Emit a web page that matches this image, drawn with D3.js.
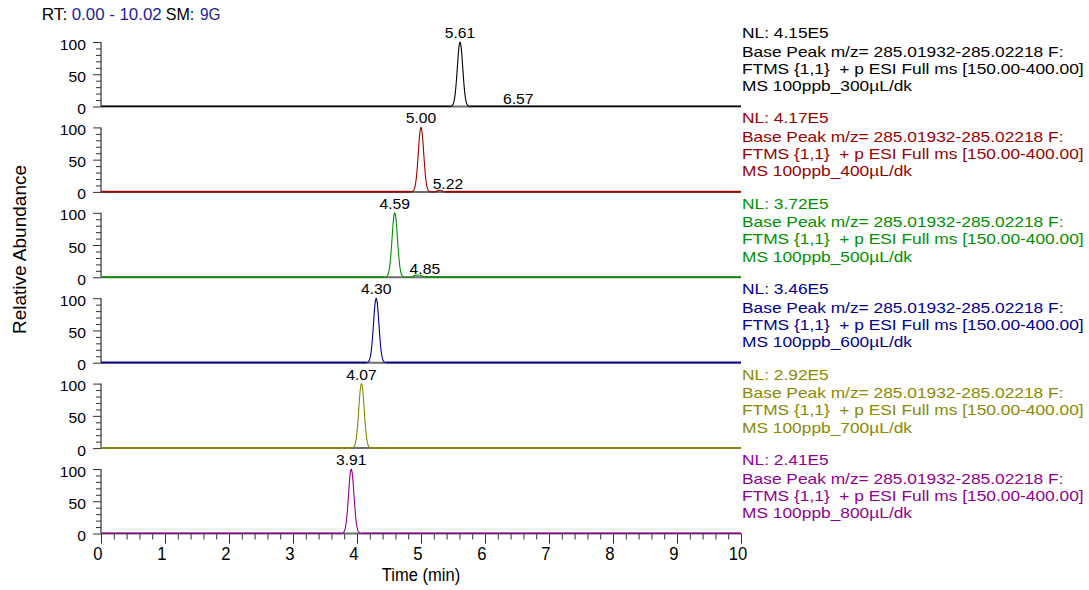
<!DOCTYPE html>
<html><head><meta charset="utf-8">
<script src="https://cdn.jsdelivr.net/npm/d3@7"></script>
<style>
html,body{margin:0;padding:0;background:#fff;}
svg{display:block;font-family:"Liberation Sans",Arial,sans-serif;}
text{white-space:pre;}
</style></head>
<body>
<svg id="chart" width="1089" height="590"></svg>
<script>
// ---------------- DATA ----------------
const sampleNames = ["MS 100ppb_300µL/dk","MS 100ppb_400µL/dk","MS 100ppb_500µL/dk","MS 100ppb_600µL/dk","MS 100ppb_700µL/dk","MS 100ppb_800µL/dk"];
const nlValues = ["4.15E5","4.17E5","3.72E5","3.46E5","2.92E5","2.41E5"];
const peakLabels = ["5.61","5.00","4.59","4.30","4.07","3.91"];
const peakTimes = [5.61, 5.00, 4.59, 4.30, 4.07, 3.91];
const minorLabels = ["6.57","5.22","4.85",null,null,null];
const minorTimes = [6.57, 5.22, 4.85, null, null, null];
const filterLine = "Base Peak m/z= 285.01932-285.02218 F:";
const scanLine = "FTMS {1,1}  + p ESI Full ms [150.00-400.00]";
const rtRange = "0.00 - 10.02";
const smoothing = "9G";
const xTicks = [0,1,2,3,4,5,6,7,8,9,10];
const yTicks = [0,50,100];

const t300 = [0,5.45,5.48,5.50,5.52,5.535,5.55,5.565,5.58,5.595,5.61,5.625,5.64,5.655,5.67,5.685,5.70,5.72,5.74,5.77,10];
const a300 = [0,0,1,3,10,20,36,56,78,94,100,94,78,56,36,20,10,3,1,0,0];
const t400 = [0,4.84,4.87,4.89,4.91,4.925,4.94,4.955,4.97,4.985,5.00,5.015,5.03,5.045,5.06,5.075,5.09,5.11,5.13,5.16,5.22,5.26,5.30,5.34,5.38,10];
const a400 = [0,0,1,3,10,20,36,56,78,94,100,94,78,56,36,20,10,3,1,0,0,2,2.5,1,0,0];
const t500 = [0,4.43,4.46,4.48,4.50,4.515,4.53,4.545,4.56,4.575,4.59,4.605,4.62,4.635,4.65,4.665,4.68,4.70,4.72,4.75,4.85,4.90,4.96,5.02,5.06,10];
const a500 = [0,0,1,3,10,20,36,56,78,94,100,94,78,56,36,20,10,3,1,0,0,3,3.5,2,0,0];
const t600 = [0,4.14,4.17,4.19,4.21,4.225,4.24,4.255,4.27,4.285,4.30,4.315,4.33,4.345,4.36,4.375,4.39,4.41,4.43,4.46,10];
const a600 = [0,0,1,3,10,20,36,56,78,94,100,94,78,56,36,20,10,3,1,0,0];
const t700 = [0,3.91,3.94,3.96,3.98,3.995,4.01,4.025,4.04,4.055,4.07,4.085,4.10,4.115,4.13,4.145,4.16,4.18,4.20,4.23,10];
const a700 = [0,0,1,3,10,20,36,56,78,94,100,94,78,56,36,20,10,3,1,0,0];
const t800 = [0,3.75,3.78,3.80,3.82,3.835,3.85,3.865,3.88,3.895,3.91,3.925,3.94,3.955,3.97,3.985,4.00,4.02,4.04,4.07,10];
const a800 = [0,0,1,3,10,20,36,56,78,94,100,94,78,56,36,20,10,3,1,0,0];

const seriesTimes = [t300,t400,t500,t600,t700,t800];
const seriesAbund = [a300,a400,a500,a600,a700,a800];

// ---------------- STYLE / LAYOUT ----------------
const colors = ["#000000","#990000","#009000","#000090","#8a8a00","#900090"];
const xLeft = 101, xRight = 741;
const base0 = 106.5, panelStep = 85.4, panelH = 64.5;
const minorLabelShift = [-0.05, 0.20, 0.21]; // minutes, label placement offsets

const svg = d3.select("#chart");
const x = d3.scaleLinear().domain([0,10]).range([xLeft,xRight]);

function stext(g, px, py, s, size, sx, anchor, fill){
  return g.append("text")
    .attr("transform", `translate(${px},${py}) scale(${sx},1)`)
    .attr("text-anchor", anchor || "start")
    .attr("font-size", size)
    .attr("fill", fill || "#000")
    .text(s);
}
function fitText(g, px, py, s, size, width, fill){
  return g.append("text").attr("x",px).attr("y",py)
    .attr("font-size",size).attr("fill",fill)
    .attr("textLength",width).attr("lengthAdjust","spacingAndGlyphs").text(s);
}

// header
const hdr = svg.append("g");
fitText(hdr, 41.7, 20, "RT:", 16, 25.5, "#000");
fitText(hdr, 71.7, 20, rtRange, 16, 90, "#1c1c9c");
fitText(hdr, 165.7, 20, "SM:", 16, 28.5, "#000");
fitText(hdr, 200, 20, smoothing, 16, 20.5, "#1c1c9c");

seriesTimes.forEach((ts, i) => {
  const b = base0 + i*panelStep;
  const y = d3.scaleLinear().domain([0,100]).range([b, b-panelH]);
  const g = svg.append("g");

  // y axis ticks (left)
  const yAxis = d3.axisLeft(y).tickValues(d3.range(0,101,10))
    .tickSize(5).tickFormat("");
  const ga = g.append("g").attr("transform",`translate(${xLeft},0)`).call(yAxis);
  ga.select(".domain").remove();
  ga.selectAll(".tick line").attr("stroke","#333").attr("stroke-width",1)
    .attr("x2", d => (d % 50 === 0) ? -8 : -5);
  g.append("line").attr("x1",xLeft).attr("x2",xLeft)
    .attr("y1",y(100)).attr("y2",y(0)).attr("stroke","#333").attr("stroke-width",1.2);
  yTicks.forEach(v => {
    stext(g, 86, y(v)+7.5, String(v), 14, 1.12, "end", "#000");
  });

  // baseline axis
  g.append("line").attr("x1",xLeft).attr("x2",xRight)
    .attr("y1",y(0)).attr("y2",y(0)).attr("stroke","#6e6e6e").attr("stroke-width",2);

  // trace
  const pts = ts.map((t,k)=>[t, seriesAbund[i][k]]);
  const line = d3.line().x(d=>x(d[0])).y(d=>y(d[1])).curve(d3.curveMonotoneX);
  g.append("path").datum(pts).attr("d",line).attr("fill","none")
    .attr("stroke",colors[i]).attr("stroke-width",1.1);
  // trace on baseline drawn thicker
  g.append("line").attr("x1",xLeft).attr("x2",x(ts[1]))
    .attr("y1",y(0)-0.3).attr("y2",y(0)-0.3).attr("stroke",colors[i]).attr("stroke-width",1.6).attr("opacity",0.75);
  g.append("line").attr("x1",x(ts[ts.length-2])).attr("x2",xRight)
    .attr("y1",y(0)-0.3).attr("y2",y(0)-0.3).attr("stroke",colors[i]).attr("stroke-width",1.6).attr("opacity",0.75);

  // peak labels
  stext(g, x(peakTimes[i]), y(100)-4, peakLabels[i], 14, 1.12, "middle", "#000");
  if (minorLabels[i]) {
    stext(g, x(minorTimes[i] + minorLabelShift[i]), y(0)-3, minorLabels[i], 14, 1.12, "middle", "#000");
  }

  // legend text
  const lb = 38 + i*panelStep;
  const lines = ["NL: " + nlValues[i], filterLine, scanLine, sampleNames[i]];
  const offs = [0, 18.5, 35.5, 53];
  lines.forEach((s,k) => stext(g, 742, lb+offs[k], s, 14, 1.24, "start", colors[i]));
});

// x axis at bottom panel
const bLast = base0 + 5*panelStep;
const xAxis = d3.axisBottom(x).tickValues(d3.range(0,10.001,0.2)).tickSize(6).tickFormat("");
const gx = svg.append("g").attr("transform",`translate(0,${bLast})`).call(xAxis);
gx.select(".domain").remove();
gx.selectAll(".tick line").attr("stroke","#333")
  .attr("y2", d => (Math.abs(d - Math.round(d)) < 1e-6) ? 10 : 6);
xTicks.forEach(v => stext(svg, x(v)-3, 560, String(v), 18.5, 0.9, "middle", "#000"));

stext(svg, 421, 581, "Time (min)", 19, 0.87, "middle", "#000");
svg.append("text").attr("transform","translate(26,249.5) rotate(-90)")
  .attr("text-anchor","middle").attr("font-size",19).text("Relative Abundance");
</script>
</body></html>
